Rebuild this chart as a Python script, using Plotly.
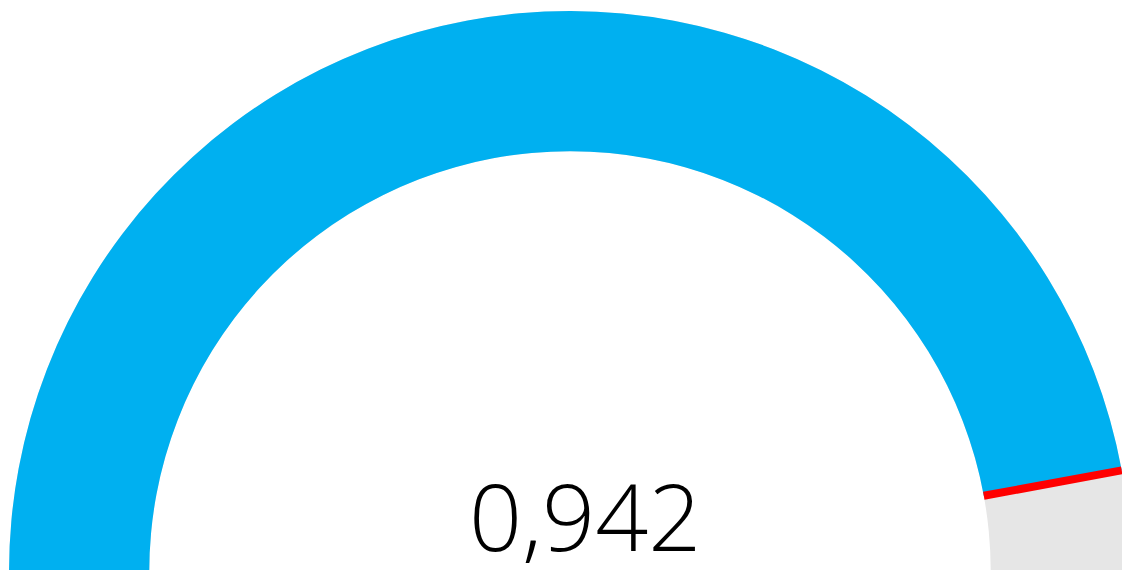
import plotly.graph_objects as go

# KPI value and its target on a 0..1 scale
kpi_value = [0.942]
kpi_target = [0.942]
scale_range = [0, 1]

value_text = f"{kpi_value[0]:.3f}".replace(".", ",")

fig = go.Figure(
    go.Indicator(
        mode="gauge",
        value=kpi_value[0],
        gauge=dict(
            shape="angular",
            axis=dict(range=scale_range, visible=False),
            bar=dict(color="#00B0F0", thickness=1, line=dict(width=0)),
            bgcolor="#E6E6E6",
            borderwidth=0,
            threshold=dict(line=dict(color="#FF0000", width=8), thickness=1, value=kpi_target[0]),
        ),
        domain=dict(x=[0, 1], y=[0, 1]),
    )
)

# Big centred value label
fig.add_annotation(
    text=value_text,
    xref="paper", yref="paper",
    x=(585 - 9) / 1122, y=1 - 515 / 583,
    xanchor="center", yanchor="middle",
    showarrow=False,
    font=dict(family="Open Sans", size=93, color="#000000", weight=300),
)

fig.update_layout(
    width=1131,
    height=583,
    margin=dict(l=9, r=0, t=0, b=0),
    paper_bgcolor="#FFFFFF",
    separators=",.",
)

fig.write_html(
    "out.html",
    post_script="document.documentElement.style.overflow='hidden';document.body.style.overflow='hidden';",
)
